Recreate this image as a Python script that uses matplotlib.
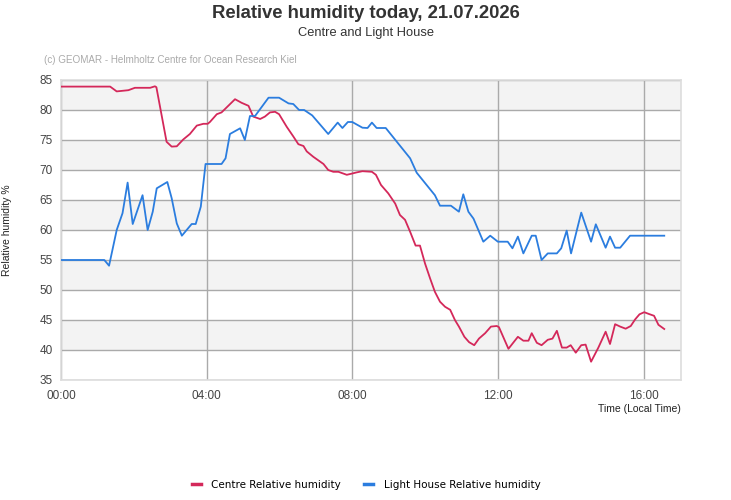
import matplotlib
matplotlib.use("Agg")
import matplotlib.pyplot as plt
from matplotlib.lines import Line2D

title = "Relative humidity today, 21.07.2026"
subtitle = "Centre and Light House"
credit = "(c) GEOMAR - Helmholtz Centre for Ocean Research Kiel"
series_names = ["Centre Relative humidity", "Light House Relative humidity"]
x_tick_labels = ["00:00", "04:00", "08:00", "12:00", "16:00"]
x_tick_hours = [0, 4, 8, 12, 16]
y_ticks = [35, 40, 45, 50, 55, 60, 65, 70, 75, 80, 85]

centre_t = [0.0, 1.35, 1.53, 1.85, 2.03, 2.45, 2.58, 2.62, 2.9, 3.04, 3.18, 3.36, 3.54, 3.73,
            3.91, 4.03, 4.09, 4.28, 4.41, 4.78, 4.96, 5.15, 5.28, 5.47, 5.6, 5.74, 5.88, 5.99,
            6.2, 6.38, 6.52, 6.66, 6.75, 6.93, 7.21, 7.34, 7.48, 7.62, 7.85, 7.99, 8.12, 8.28,
            8.54, 8.65, 8.79, 8.99, 9.18, 9.31, 9.45, 9.59, 9.74, 9.86, 10.0, 10.14, 10.27,
            10.41, 10.55, 10.69, 10.82, 10.93, 11.08, 11.21, 11.35, 11.48, 11.65, 11.81, 11.97,
            12.03, 12.29, 12.55, 12.7, 12.84, 12.93, 13.07, 13.2, 13.37, 13.5, 13.62, 13.76,
            13.89, 14.0, 14.14, 14.29, 14.41, 14.56, 14.76, 14.96, 15.08, 15.22, 15.36, 15.51,
            15.65, 15.77, 15.89, 16.02, 16.15, 16.29, 16.41, 16.57]
centre_v = [83.9, 83.9, 83.1, 83.3, 83.7, 83.7, 83.95, 83.8, 74.7, 73.9, 73.95, 75.1, 76.0, 77.4,
            77.7, 77.7, 78.0, 79.3, 79.6, 81.8, 81.2, 80.7, 78.9, 78.5, 78.9, 79.6, 79.7, 79.3,
            77.2, 75.6, 74.3, 74.0, 73.1, 72.2, 71.0, 70.0, 69.7, 69.7, 69.2, 69.4, 69.6, 69.8,
            69.7, 69.2, 67.5, 66.1, 64.4, 62.5, 61.7, 59.7, 57.4, 57.4, 54.4, 51.9, 49.7,
            48.05, 47.2, 46.7, 45.0, 43.9, 42.2, 41.3, 40.8, 41.9, 42.8, 43.9, 44.0,
            43.8, 40.2, 42.2, 41.55, 41.55, 42.8, 41.2, 40.8, 41.7, 41.9, 43.2, 40.4,
            40.4, 40.8, 39.55, 40.8, 40.9, 38.05, 40.4, 43.05, 41.0, 44.3, 43.9, 43.55,
            44.0, 45.1, 45.95, 46.3, 46.0, 45.7, 44.2, 43.5]

lighthouse_t = [0.0, 1.19, 1.32, 1.53, 1.69, 1.83, 1.97, 2.24, 2.38, 2.52, 2.63, 2.92, 3.04, 3.18,
                3.32, 3.59, 3.7, 3.84, 3.97, 4.41, 4.52, 4.64, 4.92, 5.05, 5.19, 5.33, 5.7, 5.99,
                6.25, 6.38, 6.54, 6.68, 6.9, 7.34, 7.6, 7.73, 7.88, 8.0, 8.28, 8.42, 8.54, 8.67,
                8.92, 9.59, 9.77, 10.27, 10.41, 10.71, 10.93, 11.05, 11.19, 11.33, 11.6, 11.79,
                12.0, 12.27, 12.4, 12.55, 12.7, 12.93, 13.04, 13.2, 13.37, 13.62, 13.74, 13.89,
                14.01, 14.29, 14.56, 14.69, 14.96, 15.08, 15.22, 15.36, 15.63, 16.57]
lighthouse_v = [55.0, 55.0, 54.05, 60.0, 62.8, 67.9, 61.0, 65.8, 60.0, 63.05, 66.95, 68.0, 65.3, 61.1,
                59.05, 61.0, 61.0, 63.9, 71.0, 71.0, 71.95, 76.0, 76.95, 75.0, 79.0, 79.0, 82.05, 82.05,
                81.1, 81.0, 80.0, 80.0, 79.1, 76.0, 77.9, 77.0, 78.0, 78.0, 77.05, 77.0, 77.9, 77.0,
                77.0, 71.95, 69.55, 65.8, 64.05, 64.05, 63.05, 65.95, 63.05, 61.9, 58.05, 59.05,
                58.05, 58.05, 56.95, 58.9, 56.1, 59.05, 59.05, 55.0, 56.1, 56.1, 56.95, 59.9,
                56.1, 62.9, 58.05, 60.95, 57.05, 58.9, 57.05, 57.05, 59.05, 59.05]

red = "#d4285a"
blue = "#2b7ddf"
txt = ["Liberation Sans", "DejaVu Sans"]

fig = plt.figure(figsize=(7.31, 5.00), dpi=100)
ax = fig.add_axes([61/731, 1-380/500, 620/731, 300/500])
ax.set_xlim(0, 17.03)
ax.set_ylim(35, 85)

# alternating bands
for i, lo in enumerate(range(35, 85, 5)):
    if i % 2 == 1:
        ax.axhspan(lo, lo + 5, color="#f3f3f3", zorder=0, lw=0)

ax.set_yticks(y_ticks)
ax.set_xticks(x_tick_hours)
ax.set_xticklabels(x_tick_labels)
ax.grid(True, color="#aaaaaa", lw=1.0, zorder=1)
ax.set_axisbelow(True)
ax.tick_params(length=0, labelsize=8.5, colors="#444444")
ax.tick_params(axis="x", pad=7)
ax.tick_params(axis="y", pad=6)
for lab in ax.get_xticklabels() + ax.get_yticklabels():
    lab.set_family(txt)
for s in ax.spines.values():
    s.set_color("#dddddd")
    s.set_linewidth(1.2)

ax.plot(centre_t, centre_v, color=red, lw=1.3, zorder=3)
ax.plot(lighthouse_t, lighthouse_v, color=blue, lw=1.3, zorder=3)

fig.text(0.5, 1-13/500, title, ha="center", va="center", fontsize=13.3, fontweight="bold",
         color="#333333", family=txt)
fig.text(0.5, 1-33/500, subtitle, ha="center", va="center", fontsize=9.3, color="#333333", family=txt)
fig.text(44/731, 1-60/500, credit, ha="left", va="center", fontsize=7.1, color="#aaaaaa", family=txt)
fig.text(7/731, 1-230/500, "Relative humidity %", rotation=90, ha="center", va="center",
         fontsize=7.5, color="#222222", family=txt)
fig.text(681/731, 1-409/500, "Time (Local Time)", ha="right", va="center", fontsize=7.5,
         color="#222222", family=txt)

handles = [Line2D([0], [0], color=red, lw=2.5), Line2D([0], [0], color=blue, lw=2.5)]
fig.legend(handles, series_names, loc="center", bbox_to_anchor=(366/731, 1-485/500), ncol=2,
           frameon=False, handlelength=0.9, columnspacing=2.2, handletextpad=1.0,
           prop={"family": "DejaVu Sans", "size": 7.5})

fig.savefig("out.png", dpi=100)
